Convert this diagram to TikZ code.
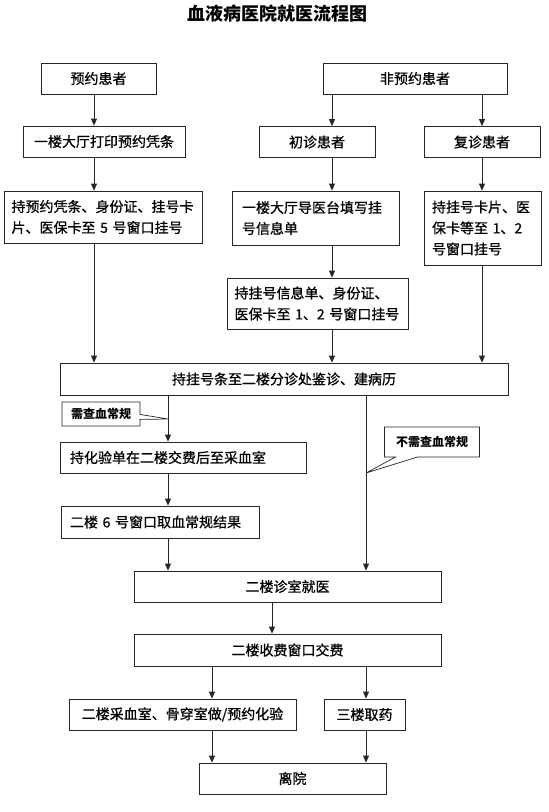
\documentclass[tikz,border=0pt]{standalone}
\usepackage{fontspec}
\setmainfont{Noto Sans CJK SC}
\newfontfamily\boxfont[FakeBold=0.8]{Noto Sans CJK SC}
\usepackage{tikz}
\usetikzlibrary{arrows.meta, shapes.callouts}
\definecolor{Ink}{HTML}{262626}

\begin{document}
\begin{tikzpicture}[
  x=1pt, y=-1pt,
  font=\boxfont\fontsize{14}{21}\selectfont,
  box/.style={draw=Ink, line width=0.8pt, inner sep=0pt, minimum height=31pt, align=center},
  lbox/.style={box, align=left, inner xsep=8pt},
  note/.style={rectangle callout, draw=Ink, line width=0.7pt, fill=white, inner sep=0pt, font=\rmfamily\fontsize{12}{14}\selectfont\bfseries},
  arrow/.style={-{Triangle[length=7pt, width=6pt]}, line width=0.8pt, draw=Ink}
]
\useasboundingbox (0,0) rectangle (549,812);

% columns of the connectors
\coordinate (colA) at (94,0);
\coordinate (colB) at (332,0);
\coordinate (colC) at (482,0);
\coordinate (colL) at (168,0);
\coordinate (colR) at (366,0);
\coordinate (colM) at (272,0);
\coordinate (colD) at (212,0);

\node[font=\rmfamily\fontsize{18}{20}\selectfont\bfseries] (title) at (277,14) {血液病医院就医流程图};

\node[box, minimum width=115pt] (yuyue) at (98.5,78.5) {预约患者};
\node[box, minimum width=184pt] (feiyuyue) at (415,78.5) {非预约患者};

\node[box, minimum width=162pt] (print) at (104,141.5) {一楼大厅打印预约凭条};
\node[box, minimum width=116pt] (chuzhen) at (317,142) {初诊患者};
\node[box, minimum width=116pt] (fuzhen) at (482,142) {复诊患者};

\node[lbox, inner xsep=7pt, text width=184pt, minimum height=52pt] (chiyuyue) at (103.5,217) {持预约凭条、身份证、挂号卡\\片、医保卡至~5~号窗口挂号};
\node[lbox, inner xsep=10pt, text width=147pt, minimum height=54pt] (daoyi) at (315.5,218) {一楼大厅导医台填写挂\\号信息单};
\node[lbox, inner xsep=8pt, text width=101pt, minimum height=74pt] (fuzhenreg) at (482.5,228) {持挂号卡片、医\\保卡等至~1、2\\号窗口挂号};
\node[lbox, inner xsep=7.5pt, text width=166pt, minimum height=51pt] (xinxi) at (317.5,303.5) {持挂号信息单、身份证、\\医保卡至~1、2~号窗口挂号};

\node[box, minimum width=448pt, minimum height=32pt] (fenzhen) at (284,379) {持挂号条至二楼分诊处鉴诊、建病历};

\node[lbox, inner xsep=10pt, text width=226pt] (huayan) at (183,457.5) {持化验单在二楼交费后至采血室};
\node[lbox, inner xsep=9pt, text width=180pt, minimum height=32pt] (xuechang) at (160,522) {二楼~6~号窗口取血常规结果};

\node[box, minimum width=307pt] (zhenshi) at (287.5,586.5) {二楼诊室就医};
\node[box, minimum width=307pt, minimum height=32pt] (shoufei) at (287.5,650) {二楼收费窗口交费};
\node[box, minimum width=227pt] (caixue) at (182.5,714.5) {二楼采血室、骨穿室做/预约化验};
\node[box, minimum width=81pt] (quyao) at (364.5,714.5) {三楼取药};
\node[box, minimum width=187pt] (liyuan) at (292.5,778.5) {离院};

\draw[arrow] (yuyue.south -| colA) -- (print.north -| colA);
\draw[arrow] (print.south -| colA) -- (chiyuyue.north -| colA);
\draw[arrow] (chiyuyue.south -| colA) -- (fenzhen.north -| colA);

\draw[arrow] (feiyuyue.south -| colB) -- (chuzhen.north -| colB);
\draw[arrow] (chuzhen.south -| colB) -- (daoyi.north -| colB);
\draw[arrow] (daoyi.south -| colB) -- (xinxi.north -| colB);
\draw[arrow] (xinxi.south -| colB) -- (fenzhen.north -| colB);

\draw[arrow] (feiyuyue.south -| colC) -- (fuzhen.north -| colC);
\draw[arrow] (fuzhen.south -| colC) -- (fuzhenreg.north -| colC);
\draw[arrow] (fuzhenreg.south -| colC) -- (fenzhen.north -| colC);

\draw[arrow] (fenzhen.south -| colL) -- (huayan.north -| colL);
\draw[arrow] (huayan.south -| colL) -- (xuechang.north -| colL);
\draw[arrow] (xuechang.south -| colL) -- (zhenshi.north -| colL);
\draw[arrow] (fenzhen.south -| colR) -- (zhenshi.north -| colR);

\draw[arrow] (zhenshi.south -| colM) -- (shoufei.north -| colM);
\draw[arrow] (shoufei.south -| colD) -- (caixue.north -| colD);
\draw[arrow] (shoufei.south -| colR) -- (quyao.north -| colR);
\draw[arrow] (caixue.south -| colD) -- (liyuan.north -| colD);
\draw[arrow] (quyao.south -| colR) -- (liyuan.north -| colR);

% remarks on the two branches
\coordinate (tipL) at (168,419);
\coordinate (tipR) at (366,473);
\node[note, minimum width=78pt, minimum height=24pt, callout pointer width=5pt, callout absolute pointer={(tipL)}] (need) at (101,414) {需查血常规};
\node[note, minimum width=95pt, minimum height=30pt, callout pointer width=22pt, callout absolute pointer={(tipR)}] (noneed) at (432,442) {不需查血常规};
\end{tikzpicture}
\end{document}
